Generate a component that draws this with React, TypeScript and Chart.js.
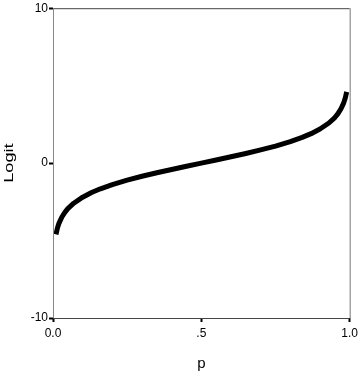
import React, { useEffect, useRef } from "react";
import { Chart, registerables } from "chart.js";

Chart.register(...registerables);

const pValues = [0.01, 0.015, 0.02, 0.03, 0.04, 0.05, 0.07, 0.1, 0.13, 0.16, 0.2, 0.25, 0.3, 0.35, 0.4, 0.45, 0.5, 0.55, 0.6, 0.65, 0.7, 0.75, 0.8, 0.84, 0.87, 0.9, 0.93, 0.95, 0.96, 0.97, 0.98, 0.985, 0.99];
const logitValues = [-4.6, -4.19, -3.89, -3.48, -3.18, -2.94, -2.59, -2.2, -1.9, -1.66, -1.39, -1.1, -0.85, -0.62, -0.41, -0.2, 0, 0.2, 0.41, 0.62, 0.85, 1.1, 1.39, 1.66, 1.9, 2.2, 2.59, 2.94, 3.18, 3.48, 3.89, 4.19, 4.6];
const xTicks = [0, 0.5, 1];
const xTickLabels = ["0.0", ".5", "1.0"];
const yTicks = [-10, 0, 10];
const yTickLabels = ["-10", "0", "10"];
const xTitle = "p";
const yTitle = "Logit";

const FONT = "'Liberation Sans', Arial, sans-serif";

export default function App() {
  const ref = useRef<HTMLCanvasElement>(null);
  useEffect(() => {
    document.body.style.margin = "0";
    const boxPlugin = {
      id: "box",
      afterDraw(chart: any) {
        const { ctx, chartArea: a } = chart;
        ctx.save();
        ctx.lineWidth = 1;
        ctx.strokeStyle = "#444";
        ctx.beginPath();
        ctx.moveTo(a.left, a.top + 0.5);
        ctx.lineTo(a.right, a.top + 0.5);
        ctx.moveTo(a.left, a.bottom + 0.5);
        ctx.lineTo(a.right, a.bottom + 0.5);
        ctx.stroke();
        ctx.strokeStyle = "#777";
        ctx.beginPath();
        ctx.moveTo(a.right + 0.5, a.top);
        ctx.lineTo(a.right + 0.5, a.bottom);
        ctx.stroke();
        ctx.strokeStyle = "#888";
        ctx.beginPath();
        ctx.moveTo(a.left + 0.5, a.top);
        ctx.lineTo(a.left + 0.5, a.bottom);
        ctx.stroke();
        // y-axis title, stretched along its length like the reference
        ctx.fillStyle = "#000";
        ctx.font = `13px ${FONT}`;
        ctx.textAlign = "center";
        ctx.textBaseline = "middle";
        ctx.translate(9, (a.top + a.bottom) / 2);
        ctx.rotate(-Math.PI / 2);
        ctx.scale(1.4, 1);
        ctx.fillText(yTitle, 0, 0);
        ctx.restore();
      },
    };
    const chart = new Chart(ref.current!, {
      type: "scatter",
      data: {
        datasets: [
          {
            data: pValues.map((p, i) => ({ x: p, y: logitValues[i] })),
            showLine: true,
            borderColor: "#000",
            borderWidth: 5,
            pointRadius: 0,
            borderCapStyle: "butt",
            borderJoinStyle: "round",
          },
        ],
      },
      options: {
        animation: false,
        responsive: false,
        layout: { padding: { left: 0, right: 11, top: 7, bottom: 0 } },
        plugins: { legend: { display: false }, tooltip: { enabled: false } },
        scales: {
          x: {
            type: "linear",
            min: 0,
            max: 1,
            afterBuildTicks: (s: any) => {
              s.ticks = xTicks.map((v) => ({ value: v }));
            },
            afterFit: (s: any) => {
              s.height = 59;
            },
            ticks: {
              callback: (v: any) => xTickLabels[xTicks.indexOf(Number(v))] ?? "",
              color: "#000",
              font: { family: FONT, size: 12 },
              padding: 4,
              maxRotation: 0,
            },
            grid: { drawOnChartArea: false, drawTicks: true, tickLength: 4, tickColor: "#000", tickWidth: 2 },
            border: { display: false },
            title: { display: true, text: xTitle, color: "#000", font: { family: FONT, size: 15 }, padding: { top: 14 } },
          },
          y: {
            type: "linear",
            min: -10,
            max: 10,
            afterBuildTicks: (s: any) => {
              s.ticks = yTicks.map((v) => ({ value: v }));
            },
            afterFit: (s: any) => {
              s.width = 53;
            },
            ticks: {
              callback: (v: any) => yTickLabels[yTicks.indexOf(Number(v))] ?? "",
              color: "#000",
              font: { family: FONT, size: 12 },
              padding: 1,
            },
            grid: { drawOnChartArea: false, drawTicks: true, tickLength: 4, tickColor: "#000", tickWidth: 2 },
            border: { display: false },
            title: { display: false },
          },
        },
      },
      plugins: [boxPlugin],
    });
    return () => chart.destroy();
  }, []);
  return (
    <div style={{ width: 362, height: 377, background: "#fff" }}>
      <canvas ref={ref} width={362} height={377} />
    </div>
  );
}
